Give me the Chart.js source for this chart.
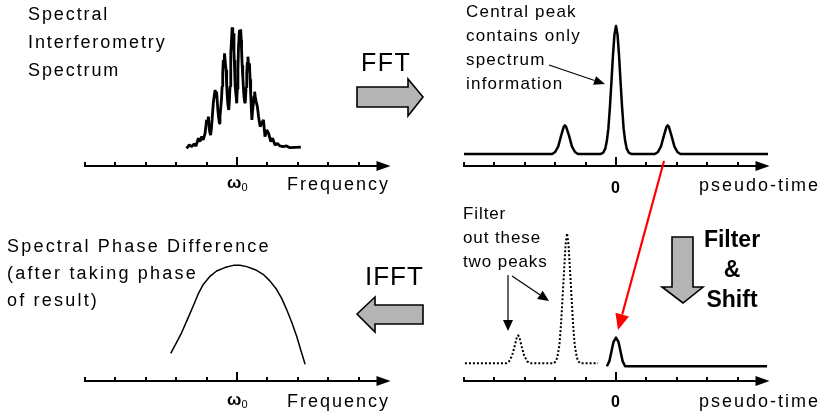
<!DOCTYPE html>
<html>
<head>
<meta charset="utf-8">
<script src="https://cdn.jsdelivr.net/npm/chart.js@4.4.1/dist/chart.umd.min.js"></script>
<style>
  body { margin: 0; background: #fff; }
  #stage { position: relative; width: 824px; height: 418px; overflow: hidden;
           font-family: "Liberation Sans", Arial, sans-serif; color: #000; }
  #stage canvas { position: absolute; }
  .t { position: absolute; white-space: nowrap; }
  #arrows { position: absolute; left: 0; top: 0; }
</style>
</head>
<body>
<div id="stage">
  <canvas id="spectrum"></canvas>
  <canvas id="fft"></canvas>
  <canvas id="phase"></canvas>
  <canvas id="filtered"></canvas>

  <div class="t" style="left:28px;top:0px;font-size:18px;line-height:28px;letter-spacing:1.9px">Spectral<br>Interferometry<br>Spectrum</div>
  <div class="t" style="left:466px;top:0px;font-size:17px;line-height:24px;letter-spacing:1.2px">Central peak<br>contains only<br>spectrum<br>information</div>
  <div class="t" style="left:7px;top:233px;font-size:18px;line-height:27px;letter-spacing:2.2px">Spectral Phase Difference<br>(after taking phase<br>of result)</div>
  <div class="t" style="left:463px;top:202px;font-size:17px;line-height:24px;letter-spacing:0.9px">Filter<br>out these<br>two peaks</div>
  <div class="t" style="left:700px;top:224px;width:64px;text-align:center;font-size:23px;line-height:30px;font-weight:bold">Filter<br>&amp;<br>Shift</div>

  <div class="t" style="left:361px;top:47px;font-size:25px;line-height:30px;letter-spacing:1.5px">FFT</div>
  <div class="t" style="left:365px;top:261px;font-size:26px;line-height:30px;letter-spacing:1px">IFFT</div>

  <div class="t" style="left:287px;top:172px;font-size:18px;line-height:24px;letter-spacing:2px">Frequency</div>
  <div class="t" style="left:287px;top:389px;font-size:18px;line-height:24px;letter-spacing:2px">Frequency</div>
  <div class="t" style="left:699px;top:173px;font-size:18px;line-height:24px;letter-spacing:2px">pseudo-time</div>
  <div class="t" style="left:699px;top:389px;font-size:18px;line-height:24px;letter-spacing:2px">pseudo-time</div>

  <div class="t" style="left:227px;top:174px;font-size:17px;line-height:18px;font-weight:bold">&omega;<span style="font-size:11px;font-weight:normal;position:relative;top:3px">0</span></div>
  <div class="t" style="left:227px;top:391px;font-size:17px;line-height:18px;font-weight:bold">&omega;<span style="font-size:11px;font-weight:normal;position:relative;top:3px">0</span></div>
  <div class="t" style="left:611px;top:179px;font-size:16px;line-height:18px;font-weight:bold">0</div>
  <div class="t" style="left:611px;top:393px;font-size:16px;line-height:18px;font-weight:bold">0</div>

  <svg id="arrows" width="824" height="418"></svg>
</div>

<script>
// tick marks along both kinds of axis (0 = omega0 / zero delay)
const freqTicks = [-5, -4, -3, -2, -1, 0, 1, 2, 3, 4];
const timeTicks = [-5, -4, -3, -2, -1, 0, 1, 2, 3, 4];
const axisStart = -5;
const axisEnd = 5.05;

// measured interferogram (fringes on a gaussian envelope)
const spectrumX = [-1.66, -1.57, -1.49, -1.41, -1.35, -1.27, -1.22, -1.16, -1.11, -1.05,
  -1.0, -0.97, -0.94, -0.91, -0.87, -0.84, -0.82, -0.78, -0.75, -0.72, -0.69, -0.67, -0.63, -0.6, -0.58,
  -0.56, -0.54, -0.51, -0.49, -0.47, -0.45, -0.43, -0.41, -0.39, -0.36, -0.34, -0.32, -0.3, -0.27,
  -0.25, -0.23, -0.21, -0.2, -0.18, -0.16, -0.14,
  -0.12, -0.1, -0.09, -0.07, -0.06, -0.03, -0.01, 0.01, 0.03, 0.05, 0.08, 0.1, 0.12, 0.14, 0.15,
  0.17, 0.19, 0.21, 0.23, 0.25, 0.27, 0.3, 0.32, 0.34, 0.36, 0.38, 0.41, 0.43, 0.45, 0.47, 0.49,
  0.51, 0.54, 0.56, 0.58, 0.6, 0.63, 0.67,
  0.71, 0.76, 0.81, 0.87, 0.92, 0.98, 1.04, 1.11, 1.17, 1.25,
  1.33, 1.41, 1.52, 1.63, 1.74, 1.91, 2.1];
const spectrumY = [0.126, 0.15, 0.138, 0.157, 0.143, 0.198, 0.174, 0.21, 0.186, 0.233,
  0.329, 0.3, 0.352, 0.257, 0.221, 0.27, 0.329, 0.448, 0.5, 0.543, 0.49, 0.531, 0.4, 0.34, 0.305,
  0.35, 0.4, 0.48, 0.567, 0.66, 0.757, 0.7, 0.805, 0.75, 0.686, 0.58, 0.495, 0.44, 0.4,
  0.47, 0.567, 0.7, 0.805, 0.9, 0.99, 0.93,
  0.948, 0.82, 0.757, 0.64, 0.567, 0.5, 0.448, 0.55, 0.686, 0.85, 0.971, 0.93, 0.976, 0.9, 0.829,
  0.72, 0.638, 0.56, 0.495, 0.46, 0.448, 0.56, 0.662, 0.74, 0.781, 0.72, 0.733, 0.62, 0.519, 0.42, 0.329,
  0.39, 0.448, 0.5, 0.531, 0.495, 0.46, 0.424,
  0.352, 0.281, 0.305, 0.329, 0.21, 0.257, 0.233, 0.174, 0.198, 0.15,
  0.162, 0.143, 0.138, 0.143, 0.131, 0.133, 0.135];

// |FFT| : dc peak plus the two sidebands
const fftX = [-5.0, -2.1, -2.0, -1.9, -1.8, -1.72, -1.68, -1.64, -1.55, -1.45, -1.35, -1.25,
  -0.5, -0.42, -0.35, -0.3, -0.25, -0.2, -0.15, -0.1, -0.05, 0,
  0.05, 0.1, 0.15, 0.2, 0.25, 0.3, 0.35, 0.42, 0.5,
  1.28, 1.38, 1.48, 1.58, 1.66, 1.7, 1.74, 1.82, 1.92, 2.02, 2.12, 5.0];
const fftY = [0.086, 0.086, 0.1, 0.14, 0.22, 0.28, 0.29, 0.28, 0.22, 0.14, 0.1, 0.086,
  0.086, 0.095, 0.126, 0.18, 0.27, 0.42, 0.6, 0.79, 0.94, 1.0,
  0.94, 0.79, 0.6, 0.42, 0.27, 0.18, 0.126, 0.095, 0.086,
  0.086, 0.1, 0.14, 0.22, 0.28, 0.29, 0.28, 0.22, 0.14, 0.1, 0.086, 0.086];

// sideband kept and shifted to zero delay
const keptX = [-0.3, -0.22, -0.15, -0.08, 0, 0.08, 0.15, 0.22, 0.3, 4.97];
const keptY = [0.105, 0.14, 0.21, 0.28, 0.31, 0.28, 0.21, 0.14, 0.105, 0.105];

// the two peaks that get filtered out (dotted)
const rejectX = [-4.97, -3.62, -3.52, -3.42, -3.32, -3.26, -3.22, -3.18, -3.12, -3.02, -2.92, -2.82,
  -2.05, -1.98, -1.93, -1.86, -1.81, -1.76, -1.71, -1.66, -1.61, -1.56, -1.51, -1.46,
  -1.41, -1.36, -1.29, -1.24, -1.17, -0.59];
const rejectY = [0.126, 0.126, 0.14, 0.18, 0.26, 0.315, 0.326, 0.315, 0.26, 0.18, 0.14, 0.126,
  0.126, 0.14, 0.17, 0.26, 0.4, 0.59, 0.78, 0.97, 1.055, 0.97, 0.78, 0.59,
  0.4, 0.26, 0.17, 0.14, 0.126, 0.126];

// recovered spectral phase
const phaseX = [-2.18, -2.0, -1.82, -1.63, -1.44, -1.28, -1.11, -0.9, -0.67, -0.4, -0.12,
  0.1, 0.32, 0.6, 0.86, 1.08, 1.3, 1.47, 1.63, 1.8, 1.96, 2.1, 2.24];
const phaseY = [0.198, 0.27, 0.346, 0.44, 0.536, 0.62, 0.69, 0.745, 0.786, 0.81, 0.826,
  0.826, 0.817, 0.795, 0.762, 0.715, 0.655, 0.59, 0.512, 0.42, 0.321, 0.22, 0.119];

const PX_PER_X = 30.4;
const PX_PER_Y = 140;

function pts(xs, ys) {
  return xs.map((x, i) => ({ x: x, y: ys[i] }));
}

// axis with arrow and small upward ticks, placed through the chart's scales
function axisPlugin(ticks) {
  return {
    id: 'arrowAxis',
    beforeDatasetsDraw(chart) {
      const ctx = chart.ctx;
      const sx = chart.scales.x, sy = chart.scales.y;
      const y0 = Math.round(sy.getPixelForValue(0));
      const x1 = sx.getPixelForValue(axisStart);
      const x2 = sx.getPixelForValue(axisEnd);
      ctx.save();
      ctx.strokeStyle = '#000';
      ctx.fillStyle = '#000';
      ctx.lineWidth = 2;
      ctx.beginPath();
      ctx.moveTo(x1, y0);
      ctx.lineTo(x2 - 10, y0);
      ctx.stroke();
      ctx.beginPath();
      ctx.moveTo(x2, y0);
      ctx.lineTo(x2 - 14, y0 - 5);
      ctx.lineTo(x2 - 14, y0 + 5);
      ctx.closePath();
      ctx.fill();
      ticks.forEach(t => {
        const x = Math.round(sx.getPixelForValue(t));
        const h = t === 0 ? 9 : 4;
        ctx.beginPath();
        ctx.moveTo(x, y0 + 1);
        ctx.lineTo(x, y0 - h);
        ctx.stroke();
      });
      ctx.restore();
    }
  };
}

function makePanel(id, box, origin, series, ticks) {
  const cv = document.getElementById(id);
  cv.width = box.w;
  cv.height = box.h;
  cv.style.left = box.x + 'px';
  cv.style.top = box.y + 'px';
  cv.style.width = box.w + 'px';
  cv.style.height = box.h + 'px';
  return new Chart(cv, {
    type: 'line',
    data: {
      datasets: series.map(s => ({
        data: pts(s.x, s.y),
        borderColor: '#000',
        borderWidth: s.width,
        borderDash: s.dash || [],
        borderJoinStyle: s.join || 'round',
        fill: false,
        pointRadius: 0,
        tension: 0
      }))
    },
    options: {
      responsive: false,
      maintainAspectRatio: false,
      animation: false,
      events: [],
      layout: { padding: 0 },
      plugins: { legend: { display: false }, tooltip: { enabled: false } },
      scales: {
        x: { type: 'linear', display: false,
             min: (box.x - origin.x) / PX_PER_X, max: (box.x + box.w - origin.x) / PX_PER_X },
        y: { type: 'linear', display: false,
             min: (origin.y - box.y - box.h) / PX_PER_Y, max: (origin.y - box.y) / PX_PER_Y }
      }
    },
    plugins: [axisPlugin(ticks)]
  });
}

makePanel('spectrum', { x: 0, y: 0, w: 412, h: 209 }, { x: 237, y: 166 },
  [{ x: spectrumX, y: spectrumY, width: 2.8, join: 'bevel' }], freqTicks);
makePanel('fft', { x: 412, y: 0, w: 412, h: 209 }, { x: 616, y: 166 },
  [{ x: fftX, y: fftY, width: 2.5 }], timeTicks);
makePanel('phase', { x: 0, y: 209, w: 412, h: 209 }, { x: 237, y: 381 },
  [{ x: phaseX, y: phaseY, width: 1.5 }], freqTicks);
makePanel('filtered', { x: 412, y: 209, w: 412, h: 209 }, { x: 616, y: 381 },
  [{ x: rejectX, y: rejectY, width: 2, dash: [2, 2] },
   { x: keptX, y: keptY, width: 2.5 }], timeTicks);

// block arrows and pointer arrows
const NS = 'http://www.w3.org/2000/svg';
const svg = document.getElementById('arrows');

function add(tag, attrs) {
  const el = document.createElementNS(NS, tag);
  for (const k in attrs) el.setAttribute(k, attrs[k]);
  svg.appendChild(el);
  return el;
}

function blockArrow(points) {
  add('polygon', { points: points.map(p => p.join(',')).join(' '),
                   fill: '#b4b4b4', stroke: '#000', 'stroke-width': 1.6,
                   'stroke-linejoin': 'miter' });
}

function pointer(x1, y1, x2, y2, color, width, len, half) {
  const a = Math.atan2(y2 - y1, x2 - x1);
  const bx = x2 - len * Math.cos(a), by = y2 - len * Math.sin(a);
  add('line', { x1: x1, y1: y1, x2: bx, y2: by, stroke: color, 'stroke-width': width });
  const nx = -Math.sin(a) * half, ny = Math.cos(a) * half;
  add('polygon', { points: `${x2},${y2} ${bx + nx},${by + ny} ${bx - nx},${by - ny}`, fill: color });
}

blockArrow([[357, 87], [408, 87], [408, 79], [423, 97], [408, 116], [408, 107], [357, 107]]);
blockArrow([[357, 314], [375, 297], [375, 305], [423, 305], [423, 324], [375, 324], [375, 332]]);
blockArrow([[672, 237], [693, 237], [693, 287], [703, 287], [683, 303], [662, 287], [672, 287]]);

pointer(549, 65, 605, 84, '#000', 1.2, 11, 4.5);
pointer(508, 275, 508, 331, '#000', 1.2, 11, 5);
pointer(512, 276, 549, 301, '#000', 1.2, 11, 5);
pointer(664, 161, 618, 330, '#f00', 2.2, 16, 7);
</script>
</body>
</html>
